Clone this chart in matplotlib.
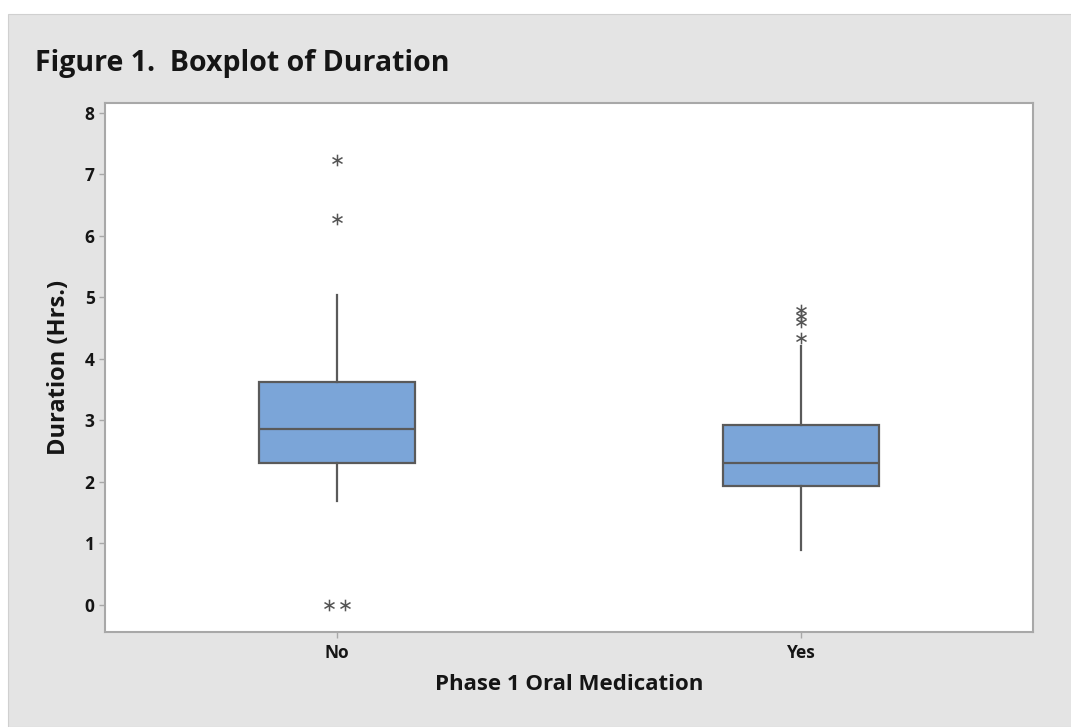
import numpy as np
import matplotlib.pyplot as plt
from matplotlib.patches import Rectangle

# Boxplot summary values
groups = ["No", "Yes"]
q1 = [2.31, 1.94]
median = [2.86, 2.30]
q3 = [3.63, 2.93]
whisker_lo = [1.69, 0.89]
whisker_hi = [5.04, 4.21]
outliers_no = [7.24, 6.28, 0.0, 0.0]
outliers_yes = [4.34, 4.60, 4.70, 4.80]

box_color = "#7BA5D8"
edge_color = "#5A5A5A"
panel_color = "#E4E4E4"
frame_color = "#A8A8A8"
text_color = "#151515"

plt.rcParams['font.family'] = ['Open Sans', 'DejaVu Sans']

fig = plt.figure(figsize=(10.71, 7.27), dpi=100)
fig.patch.set_facecolor("white")
fig.patches.append(Rectangle((8 / 1071, 0), 1, 1 - 14 / 727, transform=fig.transFigure,
                             facecolor=panel_color, edgecolor="#D0D0D0", lw=0.8, zorder=-1))

ax = fig.add_axes([105 / 1071, 1 - 632 / 727, 928 / 1071, 529 / 727])
ax.set_facecolor("white")

stats = []
for i, g in enumerate(groups):
    stats.append(dict(label=g, q1=q1[i], med=median[i], q3=q3[i],
                      whislo=whisker_lo[i], whishi=whisker_hi[i], fliers=[]))

positions = np.arange(1, len(groups) + 1)
ax.bxp(stats, positions=positions, widths=0.336, showfliers=False, showcaps=False,
       patch_artist=True,
       boxprops=dict(facecolor=box_color, edgecolor=edge_color, linewidth=1.6),
       medianprops=dict(color=edge_color, linewidth=1.6),
       whiskerprops=dict(color=edge_color, linewidth=1.6))

# outliers as asterisks; tied values spread side by side
for pos, vals in zip(positions, [outliers_no, outliers_yes]):
    vals = np.array(vals)
    for v in np.unique(vals):
        n = np.sum(vals == v)
        offs = (np.arange(n) - (n - 1) / 2) * 0.034
        ax.scatter(pos + offs, [v] * n, marker=r'$\ast$', s=70, color="#555555",
                   linewidths=0, zorder=5)

ax.set_xlim(0.5, 2.5)
ax.set_ylim(-0.44, 8.16)
ax.set_yticks(range(0, 9))
ax.set_xticks(positions)
ax.set_xticklabels(groups)

for s in ax.spines.values():
    s.set_color(frame_color)
    s.set_linewidth(1.5)
ax.tick_params(axis="both", colors=frame_color, length=4, width=1,
               labelcolor=text_color, labelsize=12.5)
ax.tick_params(axis="x", pad=5)
for lab in ax.get_xticklabels() + ax.get_yticklabels():
    lab.set_fontweight("bold")

ax.set_xlabel("Phase 1 Oral Medication", fontsize=16, fontweight="bold",
              color=text_color, labelpad=8)
ax.set_ylabel("Duration (Hrs.)", fontsize=17, fontweight="bold",
              color=text_color, labelpad=10)

fig.text(35 / 1071, 1 - 63 / 727, "Figure 1.  Boxplot of Duration", fontsize=20.5,
         fontweight="bold", color=text_color, va="center", ha="left")

fig.savefig("out.png", dpi=100)
